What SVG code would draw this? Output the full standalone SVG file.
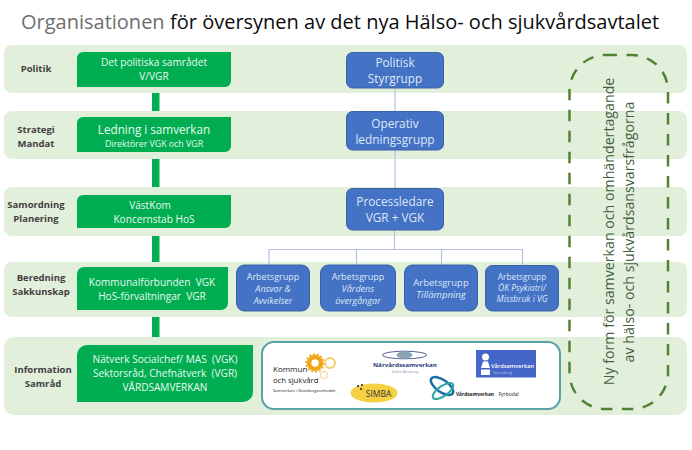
<svg xmlns="http://www.w3.org/2000/svg" width="692" height="450" viewBox="0 0 692 450">
<style>
text{font-family:"Open Sans","Noto Sans","Liberation Sans",sans-serif;text-anchor:middle}
.s{text-anchor:start}
.band{fill:#e2efda}
.g{fill:#00ad50}
.b{fill:#4472c4;stroke:#3a62a8;stroke-width:1}
.lab{font-size:9.500px;font-weight:700;fill:#404040}
.wt{fill:#e8faef;font-size:10.100px}
.bt{fill:#dfe8f8}
.bm{font-size:11.800px}
.i{font-style:italic}
.conn{stroke:#b4c0de;stroke-width:1.200;fill:none}
.gc{fill:#00ad50}
.ny{font-size:14.200px;fill:#44603e}
</style>
<rect width="692" height="450" fill="#fff"/>
<text class="s" x="21" y="29" font-size="20" fill="#6e6e6e">Organisationen</text>
<text class="s" x="170" y="29" font-size="20" fill="#0c0c0c">för översynen av det nya Hälso- och sjukvårdsavtalet</text>

<g id="bands">
<rect class="band" x="4" y="45" width="683" height="48" rx="8"/>
<rect class="band" x="4" y="111" width="683" height="48" rx="8"/>
<rect class="band" x="4" y="187" width="683" height="49" rx="8"/>
<rect class="band" x="4" y="262" width="683" height="55" rx="8"/>
<rect class="band" x="4" y="337" width="683" height="78" rx="10"/>
</g>

<g id="connectors">
<rect class="gc" x="152" y="93" width="7.500" height="18"/>
<rect class="gc" x="152" y="159" width="7.500" height="28"/>
<rect class="gc" x="152" y="236" width="7.500" height="26"/>
<rect class="gc" x="152" y="317" width="7.500" height="20"/>
<path class="conn" d="M395 88V111M395 150V188M394.500 230V249.500M269 265V249.500H522.500V265M356.500 249.500V265M441.500 249.500V265"/>
</g>

<g id="label-politik"><text class="lab" x="36" y="72">Politik</text></g>
<g id="label-strategi"><text class="lab" x="36" y="133">Strategi</text><text class="lab" x="36" y="147">Mandat</text></g>
<g id="label-samordning"><text class="lab" x="36" y="208">Samordning</text><text class="lab" x="36" y="222">Planering</text></g>
<g id="label-beredning"><text class="lab" x="41" y="281">Beredning</text><text class="lab" x="41" y="295">Sakkunskap</text></g>
<g id="label-information"><text class="lab" x="43" y="373">Information</text><text class="lab" x="43" y="387">Samråd</text></g>

<g id="node-politiska"><path class="g" d="M83 52H231V81a6 6 0 0 1-6 6H77V58a6 6 0 0 1 6-6z"/>
<text class="wt" x="154" y="66">Det politiska samrådet</text><text class="wt" x="154" y="80">V/VGR</text></g>
<g id="node-ledning"><path class="g" d="M83 117H231V146a6 6 0 0 1-6 6H77V123a6 6 0 0 1 6-6z"/>
<text class="wt" x="154" y="134" style="font-size:11.700px">Ledning i samverkan</text><text class="wt" x="154" y="147" style="font-size:8.800px">Direktörer VGK och VGR</text></g>
<g id="node-vastkom"><path class="g" d="M83 195H231V222a6 6 0 0 1-6 6H77V201a6 6 0 0 1 6-6z"/>
<text class="wt" x="150" y="209">VästKom</text><text class="wt" x="154" y="223">Koncernstab HoS</text></g>
<g id="node-kommunal"><path class="g" d="M84 267H228V303a7 7 0 0 1-7 7H77V274a7 7 0 0 1 7-7z"/>
<text class="wt" x="152" y="286">Kommunalförbunden&#160; VGK</text><text class="wt" x="152" y="300">HoS-förvaltningar&#160; VGR</text></g>
<g id="node-natverk"><path class="g" d="M87 345H253V392a10 10 0 0 1-10 10H77V355a10 10 0 0 1 10-10z"/>
<text class="wt" x="165" y="363">Nätverk Socialchef/ MAS&#160; (VGK)</text><text class="wt" x="165" y="377">Sektorsråd, Chefnätverk&#160; (VGR)</text><text class="wt" x="165" y="391">VÅRDSAMVERKAN</text></g>

<g id="node-styrgrupp"><rect class="b" x="346.500" y="52.500" width="97" height="35.500" rx="6"/>
<text class="bt bm" x="395" y="67">Politisk</text><text class="bt bm" x="395" y="83">Styrgrupp</text></g>
<g id="node-operativ"><rect class="b" x="346.500" y="111.500" width="97" height="38.500" rx="6"/>
<text class="bt bm" x="395" y="128">Operativ</text><text class="bt bm" x="395" y="144">ledningsgrupp</text></g>
<g id="node-process"><rect class="b" x="346.500" y="188.500" width="97" height="41.500" rx="6"/>
<text class="bt bm" x="395" y="206">Processledare</text><text class="bt bm" x="395" y="222">VGR + VGK</text></g>

<g id="node-ag1"><rect class="b" x="236.500" y="265" width="73" height="46" rx="8"/>
<text class="bt" x="273" y="280" font-size="9">Arbetsgrupp</text><text class="bt i" x="273" y="292" font-size="9">Ansvar &amp;</text><text class="bt i" x="273" y="304" font-size="9">Avvikelser</text></g>
<g id="node-ag2"><rect class="b" x="320.500" y="265" width="75" height="46" rx="8"/>
<text class="bt" x="358" y="280" font-size="9">Arbetsgrupp</text><text class="bt i" x="358" y="292" font-size="9">Vårdens</text><text class="bt i" x="358" y="304" font-size="9">övergångar</text></g>
<g id="node-ag3"><rect class="b" x="404.500" y="265" width="73" height="46" rx="8"/>
<text class="bt" x="441" y="286" font-size="9.500">Arbetsgrupp</text><text class="bt i" x="441" y="298" font-size="9.500">Tillämpning</text></g>
<g id="node-ag4"><rect class="b" x="485.500" y="265.500" width="73" height="45.500" rx="7"/>
<text class="bt" x="522" y="280" font-size="8.300">Arbetsgrupp</text><text class="bt i" x="522" y="291" font-size="8.500">ÖK Psykiatri/</text><text class="bt i" x="522" y="302" font-size="8.500">Missbruk i VG</text></g>

<g id="node-logos">
<rect x="262" y="342" width="298" height="67" rx="12" fill="#fff" stroke="#58a2a6" stroke-width="2"/>
<g id="logo-kommun">
<circle cx="315" cy="363" r="6" fill="none" stroke="#f0a818" stroke-width="4.500"/>
<circle cx="315" cy="363" r="9" fill="none" stroke="#f0a818" stroke-width="1.500" stroke-dasharray="2 2"/>
<circle cx="330" cy="363" r="5" fill="none" stroke="#f4cf6e" stroke-width="2"/>
<circle cx="324" cy="375" r="3.500" fill="none" stroke="#f6dfae" stroke-width="1.500"/>
<text class="s" x="273" y="372" font-size="8" fill="#222">Kommun</text>
<text class="s" x="273" y="383" font-size="7.700" fill="#222">och sjukvård</text>
<text class="s" x="273" y="392" font-size="4.200" fill="#222">Samverkan i Göteborgsområdet</text>
</g>
<g id="logo-narvard">
<ellipse cx="404.500" cy="355" rx="22" ry="3.800" fill="#fff" stroke="#2a3c78" stroke-width="0.800"/>
<ellipse cx="404.500" cy="355" rx="8" ry="3.500" fill="#8ba4b8"/>
<text x="405" y="366.500" font-size="6" font-weight="700" fill="#2a3c78" textLength="64" lengthAdjust="spacingAndGlyphs">Närvårdssamverkan</text>
<text x="405" y="373" font-size="3.800" fill="#8a94b0">Södra Älvsborg</text>
</g>
<g id="logo-vardsam">
<rect x="476" y="350" width="60" height="27.500" fill="#4565c8"/>
<circle cx="485.500" cy="357" r="3.500" fill="#fff"/>
<path d="M481 368l2-6.500h5l2 6.500z" fill="#fff"/><rect x="481" y="369.500" width="9" height="5.500" fill="#fff"/>
<text class="s" x="491" y="368" font-size="5.800" fill="#fff" font-weight="600" textLength="43" lengthAdjust="spacingAndGlyphs">Vårdsamverkan</text>
<text class="s" x="493" y="374" font-size="4" fill="#b8c6f0">Skaraborg</text>
</g>
<g id="logo-simba">
<ellipse cx="374" cy="393" rx="23.500" ry="9.500" fill="#f6d040"/>
<circle cx="358" cy="386" r="1" fill="#222"/><circle cx="362" cy="385" r="1" fill="#222"/><circle cx="361" cy="389" r="1" fill="#222"/>
<text x="378.500" y="397" font-size="8.500" fill="#333">SIMBA</text>
</g>
<g id="logo-fyrbodal">
<ellipse cx="442" cy="386" rx="13" ry="6" fill="none" stroke="#1a6ea8" stroke-width="2.500" transform="rotate(35 442 386)"/>
<ellipse cx="443" cy="391" rx="12" ry="5" fill="none" stroke="#2aa6a0" stroke-width="2" transform="rotate(-35 443 391)"/>
<text class="s" x="456" y="396" font-size="4.800" font-weight="700" fill="#222">Vårdsamverkan</text>
<text class="s" x="498.500" y="396" font-size="5" fill="#222">Fyrbodal</text>
</g>
</g>

<g id="node-ny-form">
<rect x="569.500" y="55" width="98.500" height="354" rx="36" fill="none" stroke="#548235" stroke-width="2.500" stroke-dasharray="11.500 9.500"/>
<text class="ny" transform="translate(614 231.500) rotate(-90)">Ny form för samverkan och omhändertagande</text>
<text class="ny" transform="translate(634 232) rotate(-90)">av hälso- och sjukvårdsansvarsfrågorna</text>
</g>
</svg>
